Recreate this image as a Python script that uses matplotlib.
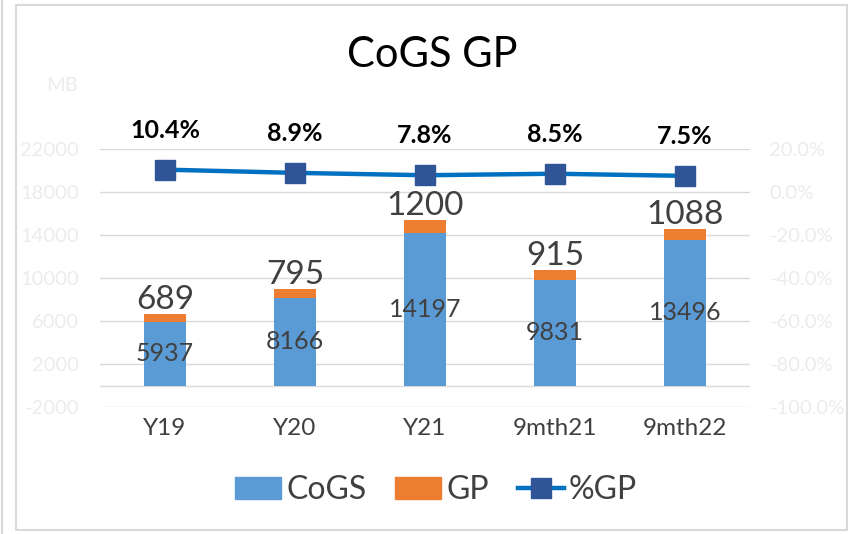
import matplotlib
matplotlib.use("Agg")
import matplotlib.pyplot as plt
from matplotlib.patches import Rectangle
from matplotlib.lines import Line2D
import numpy as np

categories = ["Y19", "Y20", "Y21", "9mth21", "9mth22"]
cogs = [5937, 8166, 14197, 9831, 13496]
gp = [689, 795, 1200, 915, 1088]
gp_pct = [10.4, 8.9, 7.8, 8.5, 7.5]
left_ticks = [-2000, 2000, 6000, 10000, 14000, 18000, 22000]
right_ticks = [-100, -80, -60, -40, -20, 0, 20]

FONT = ["Lato", "DejaVu Sans"]
plt.rcParams['font.family'] = FONT

C_COGS = "#5B9BD5"
C_GP = "#ED7D31"
C_LINE = "#0070C0"
C_MARK = "#2F5597"
GRID = "#d9d9d9"
FAINT = "#ececec"
TXT = "#404040"

fig = plt.figure(figsize=(8.5, 5.34), dpi=100)
ax = fig.add_axes([100/850, 1-407/534, 650/850, 258/534])
x = np.arange(len(categories))
w = 0.32

ax.set_xlim(-0.5, len(categories) - 0.5)
ax.set_ylim(-2000, 22000)
ax.set_yticks(left_ticks)
ax.set_yticklabels([str(t) for t in left_ticks])
for t in left_ticks:
    ax.axhline(t, color=GRID, lw=1, zorder=0)
ax.axhline(0, color=GRID, lw=1, zorder=0)

ax.bar(x, cogs, w, color=C_COGS, zorder=2)
ax.bar(x, gp, w, bottom=cogs, color=C_GP, zorder=2)

for xi, c, g in zip(x, cogs, gp):
    ax.text(xi, c / 2, str(c), ha="center", va="center", fontsize=18, color=TXT, zorder=5)
    ax.text(xi, c + g - 100, str(g), ha="center", va="bottom", fontsize=24, color=TXT, zorder=5)

for s in ax.spines.values():
    s.set_visible(False)
ax.tick_params(axis="y", length=0, colors=FAINT, labelsize=14.5, pad=15)
ax.tick_params(axis="x", length=0, colors=TXT, labelsize=17.5, pad=8)
ax.set_xticks(x)
ax.set_xticklabels(categories)

ax2 = ax.twinx()
ax2.set_ylim(-100, 20)
ax2.set_yticks(right_ticks)
ax2.set_yticklabels([f"{t:.1f}%" for t in right_ticks])
for s in ax2.spines.values():
    s.set_visible(False)
ax2.tick_params(axis="y", length=0, colors=FAINT, labelsize=14.5, pad=14)
ax2.plot(x, gp_pct, color=C_LINE, lw=3.2, marker="s", markersize=14,
         markerfacecolor=C_MARK, markeredgecolor=C_MARK, zorder=4)
for xi, p in zip(x, gp_pct):
    ax2.annotate(f"{p:.1f}%", (xi, p), xytext=(0, 20), textcoords="offset points",
                 ha="center", va="bottom", fontsize=18, fontweight="bold", color="black")

fig.text(432/850, 1-55/534, "CoGS GP", ha="center", va="center", fontsize=30, color="black")
fig.text(62/850, 1-85/534, "MB", ha="center", va="center", fontsize=14.5, color=FAINT)

handles = [Rectangle((0, 0), 1, 1, color=C_COGS), Rectangle((0, 0), 1, 1, color=C_GP),
           Line2D([0], [0], color=C_LINE, lw=3.2, marker="s", markersize=14,
                  markerfacecolor=C_MARK, markeredgecolor=C_MARK)]
fig.legend(handles, ["CoGS", "GP", "%GP"], loc="center", bbox_to_anchor=(436/850, 1-490/534),
           ncol=3, frameon=False, fontsize=23, handlelength=1.45, handleheight=0.7,
           handletextpad=0.15, columnspacing=0.9, labelcolor=TXT)

fig.add_artist(Rectangle((16/850, 4/534), 831/850, 525/534, transform=fig.transFigure,
                         fill=False, edgecolor=GRID, lw=1.5))
fig.add_artist(Line2D([2/850, 2/850], [0, 1], transform=fig.transFigure, color=GRID, lw=1.5))

fig.savefig("out.png", dpi=100)
